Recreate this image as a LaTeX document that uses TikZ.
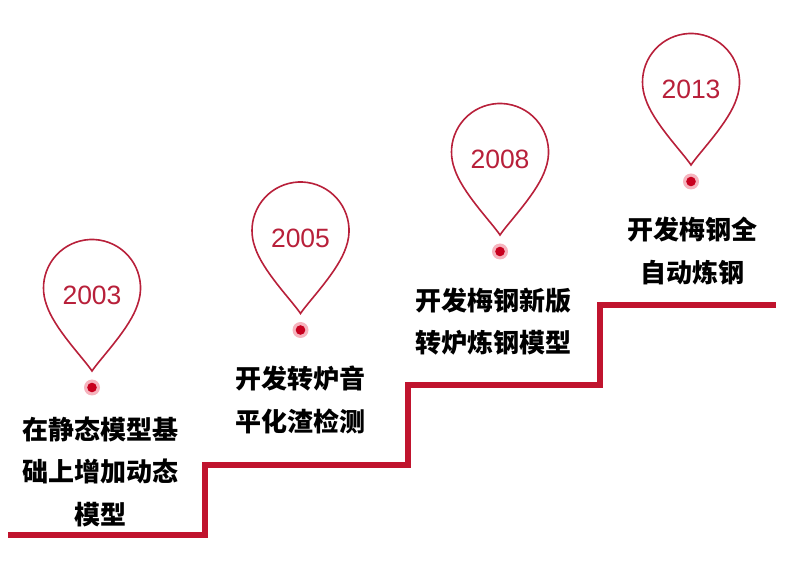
\documentclass[tikz,border=0pt]{standalone}
\usepackage{fontspec}
\setmainfont{Liberation Sans}
\newfontfamily\cjk{Noto Sans CJK SC Black}
\definecolor{steel}{HTML}{C0142E}
\definecolor{pinline}{HTML}{B8203A}
\definecolor{dotred}{HTML}{C8001E}
\definecolor{halo}{HTML}{F6B4BE}
\tikzset{
  stair/.style={draw=steel, line width=5.5pt, line join=miter},
  pinshape/.style={draw=pinline, line width=1.6pt, fill=white},
  yeartext/.style={text=pinline, font=\fontsize{26.5}{30}\selectfont, inner sep=0pt},
  desc/.style={font=\cjk\fontsize{26}{42.5}\selectfont, align=center, inner sep=0pt},
  pics/pin/.style n args={2}{code={
    \draw[pinshape] (0,-83) .. controls (8.25,-70.5) and (38,-40.4) .. (-20:48.5)
      arc[start angle=-20, end angle=200, radius=48.5]
      .. controls (-38,-40.4) and (-8.25,-70.5) .. (0,-83) -- cycle;
    \node[yeartext] (#1) at (0,-7.5) {#2};
    \fill[halo] (0,-99.5) circle (8);
    \fill[dotred] (0,-99.5) circle (4.8);
  }}
}
\begin{document}
\begin{tikzpicture}[x=1pt,y=1pt]
\useasboundingbox (0,0) rectangle (791,586);
\coordinate (s0) at (8,51);
\coordinate (s1) at (205,51);
\coordinate (s2) at (205,121);
\coordinate (s3) at (408,121);
\coordinate (s4) at (408,201);
\coordinate (s5) at (600,201);
\coordinate (s6) at (600,281);
\coordinate (s7) at (776,281);
\draw[stair] (s0) -- (s1) -- (s2) -- (s3) -- (s4) -- (s5) -- (s6) -- (s7);
\pic at (92,298) {pin={y1}{2003}};
\pic at (300.5,355.5) {pin={y2}{2005}};
\pic at (500,434) {pin={y3}{2008}};
\pic at (691,504) {pin={y4}{2013}};
\node[desc] (t1) at (100,114.5) {在静态模型基\\础上增加动态\\模型};
\node[desc] (t2) at (300,186) {开发转炉音\\平化渣检测};
\node[desc] (t3) at (493,264.5) {开发梅钢新版\\转炉炼钢模型};
\node[desc] (t4) at (692,335) {开发梅钢全\\自动炼钢};
\end{tikzpicture}
\end{document}
